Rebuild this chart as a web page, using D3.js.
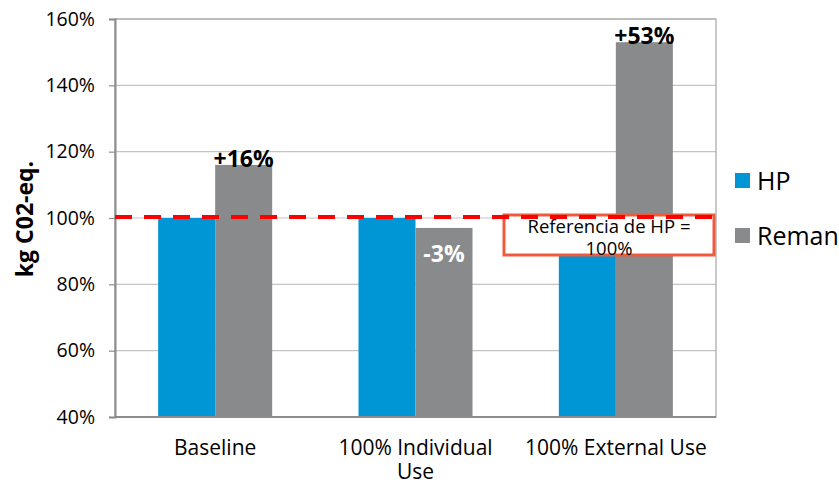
<!DOCTYPE html>
<html>
<head>
<meta charset="utf-8">
<script src="https://cdn.jsdelivr.net/npm/d3@7"></script>
<style>
  body { margin: 0; background: #fff; }
  svg { display: block; font-family: "Open Sans", sans-serif; }
</style>
</head>
<body>
<svg width="839" height="485"></svg>
<script>
// chart data
const categories = ["Baseline", "100% Individual Use", "100% External Use"];
const categoryLines = [["Baseline"], ["100% Individual", "Use"], ["100% External Use"]];
const seriesNames = ["HP", "Reman"];
const hpValues = [100, 100, 100];
const remanValues = [116, 97, 153];
const changeLabels = ["+16%", "-3%", "+53%"];
const yTicks = [40, 60, 80, 100, 120, 140, 160];
const referenceValue = 100;
const referenceText = ["Referencia de HP =", "100%"];

const colors = { HP: "#0096d6", Reman: "#898a8c" };

const svg = d3.select("svg");
const plotLeft = 115, plotRight = 716, plotTop = 19, plotBottom = 417;

// scales
const x = d3.scaleBand().domain(categories).range([plotLeft, plotRight]).padding(0);
const x1 = d3.scaleBand().domain(seriesNames).range([0, x.bandwidth()]).paddingOuter(0.757);
const y = d3.scaleLinear().domain([40, 160]).range([plotBottom, plotTop]);

// gridlines
svg.append("g").selectAll("line")
  .data(yTicks)
  .enter().append("line")
  .attr("x1", plotLeft).attr("x2", plotRight)
  .attr("y1", d => y(d)).attr("y2", d => y(d))
  .attr("stroke", "#c4c4c4").attr("stroke-width", 1.2);

// plot border (top + right)
svg.append("rect")
  .attr("x", plotLeft).attr("y", plotTop)
  .attr("width", plotRight - plotLeft).attr("height", plotBottom - plotTop)
  .attr("fill", "none").attr("stroke", "#a6a6a6").attr("stroke-width", 1.2);

// y axis
const yAxis = svg.append("g")
  .attr("transform", "translate(" + plotLeft + ",0)")
  .call(d3.axisLeft(y).tickValues(yTicks).tickFormat(d => d + "%").tickSize(6).tickPadding(14));
yAxis.select(".domain").attr("stroke", "#8c8c8c").attr("stroke-width", 2);
yAxis.selectAll(".tick line").attr("stroke", "#8c8c8c").attr("stroke-width", 1.2);
yAxis.selectAll("text").style("font-size", "19.5px").attr("fill", "#000")
  .style("font-family", "'Open Sans', sans-serif");

// bars
const rows = categories.map((c, i) => ({ cat: c, HP: hpValues[i], Reman: remanValues[i], label: changeLabels[i] }));
const groups = svg.append("g").selectAll("g")
  .data(rows)
  .enter().append("g")
  .attr("transform", d => "translate(" + x(d.cat) + ",0)");

groups.selectAll("rect")
  .data(d => seriesNames.map(s => ({ s: s, v: d[s] })))
  .enter().append("rect")
  .attr("x", d => x1(d.s))
  .attr("y", d => y(d.v))
  .attr("width", x1.bandwidth())
  .attr("height", d => y(40) - y(d.v))
  .attr("fill", d => colors[d.s]);

// bottom axis line
svg.append("line")
  .attr("x1", plotLeft).attr("x2", plotRight)
  .attr("y1", plotBottom).attr("y2", plotBottom)
  .attr("stroke", "#8c8c8c").attr("stroke-width", 2);

// change labels on Reman bars
groups.append("text")
  .attr("x", x1("Reman") + x1.bandwidth() / 2)
  .attr("y", d => d.label[0] === "-" ? y(d.Reman) + 34 : y(d.Reman) + 2)
  .attr("text-anchor", "middle")
  .style("font-size", "23px").style("font-weight", "bold")
  .attr("fill", d => d.label[0] === "-" ? "#fff" : "#000")
  .text(d => d.label);

// category labels
svg.append("g").selectAll("text")
  .data(categories)
  .enter().append("text")
  .attr("x", d => x(d) + x.bandwidth() / 2)
  .attr("y", 455)
  .attr("text-anchor", "middle")
  .style("font-size", "21px")
  .each(function (d, i) {
    d3.select(this).selectAll("tspan")
      .data(categoryLines[i])
      .enter().append("tspan")
      .attr("x", x(d) + x.bandwidth() / 2)
      .attr("dy", (t, j) => j === 0 ? 0 : 24)
      .text(t => t);
  });

// reference box
const boxX = 504, boxW = 210;
svg.append("rect")
  .attr("x", boxX).attr("y", y(referenceValue) - 3)
  .attr("width", boxW).attr("height", 40)
  .attr("fill", "#fff").attr("stroke", "#f05a3c").attr("stroke-width", 3);
svg.append("text")
  .attr("text-anchor", "middle")
  .style("font-size", "18.5px")
  .selectAll("tspan")
  .data(referenceText)
  .enter().append("tspan")
  .attr("x", boxX + boxW / 2)
  .attr("y", (t, j) => y(referenceValue) + 15 + j * 22)
  .text(t => t);

// dashed reference line
svg.append("line")
  .attr("x1", plotLeft).attr("x2", plotRight)
  .attr("y1", y(referenceValue) - 1).attr("y2", y(referenceValue) - 1)
  .attr("stroke", "#ff0000").attr("stroke-width", 4)
  .attr("stroke-dasharray", "17,12");

// y title
svg.append("text")
  .attr("transform", "translate(33," + (y(100) + 1) + ") rotate(-90)")
  .attr("text-anchor", "middle")
  .style("font-size", "23px").style("font-weight", "bold")
  .text("kg C02-eq.");

// legend
const legend = svg.append("g").selectAll("g")
  .data(seriesNames)
  .enter().append("g")
  .attr("transform", (d, i) => "translate(735," + (173 + i * 55) + ")");
legend.append("rect").attr("width", 15).attr("height", 15).attr("fill", d => colors[d]);
legend.append("text").attr("x", 22).attr("y", 17)
  .style("font-size", "25px").text(d => d);
</script>
</body>
</html>
